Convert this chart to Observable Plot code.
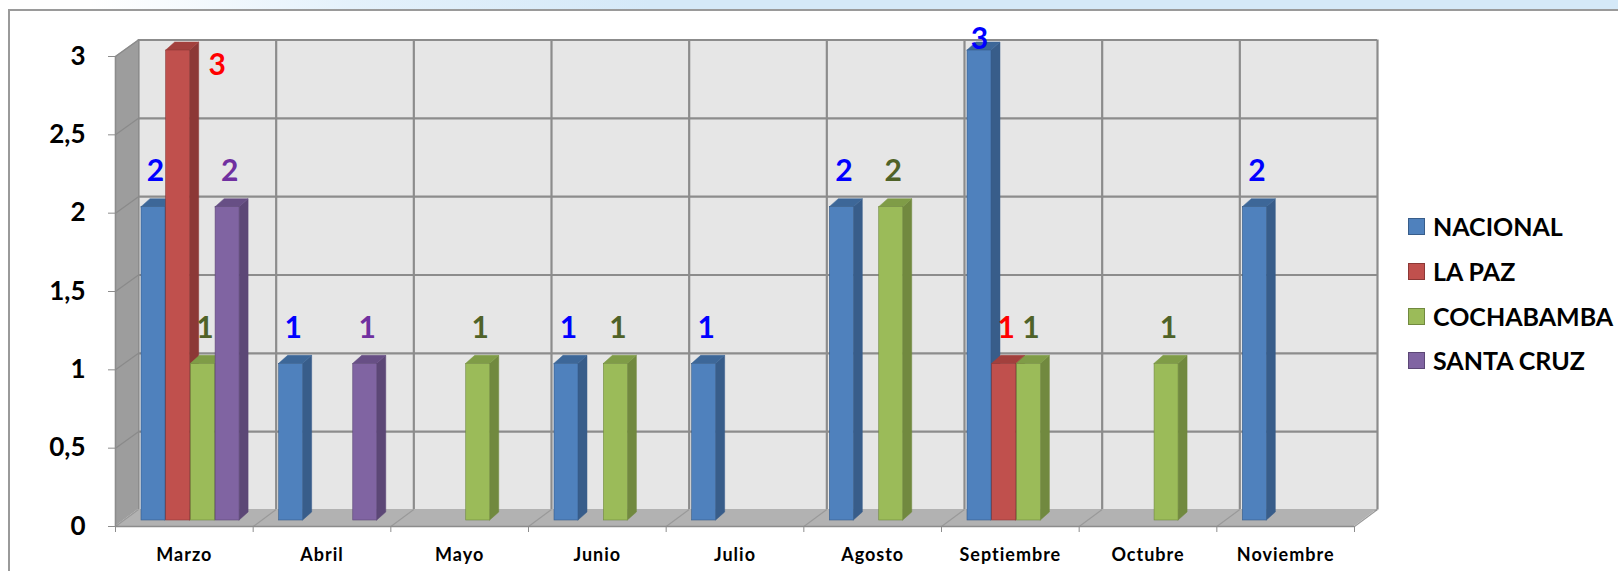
<!DOCTYPE html>
<html>
<head>
<meta charset="utf-8">
<script src="https://cdn.jsdelivr.net/npm/d3@7"></script>
<script src="https://cdn.jsdelivr.net/npm/@observablehq/plot@0.6"></script>
<style>
  html, body { margin: 0; padding: 0; background: #fff; overflow: hidden; }
  #wrap { position: relative; width: 1618px; height: 571px; overflow: hidden; font-family: Lato, "Open Sans", sans-serif; }
  #band { position: absolute; left: 0; top: 0; width: 1618px; height: 10px;
          background: linear-gradient(to right, #ffffff 0px, #ffffff 90px, #e4f1fb 350px, #d5e9f8 650px, #d5e9f8 1618px); }
  #frame { position: absolute; left: 8px; top: 9px; width: 1640px; height: 600px; background: #fff;
           border-left: 2px solid #9a9a9a; border-top: 2px solid #9a9a9a; }
  #chart { position: absolute; left: 0; top: 0; }
  #legend { position: absolute; left: 0; top: 0; }
  .item { position: absolute; left: 1408px; height: 24px; display: flex; align-items: center; white-space: nowrap; }
  .sw { width: 15px; height: 15px; border: 1px solid; margin-right: 8px; }
  .lbl { font-family: Lato, sans-serif; font-weight: bold; font-size: 25px; color: #000; }
  g[aria-label="x-axis tick label"] text { letter-spacing: 1px; }
</style>
</head>
<body>
<div id="wrap">
  <div id="band"></div>
  <div id="frame"></div>
  <div id="chart"></div>
  <div id="legend"></div>
</div>
<script>
// ---- data ----
const months = ["Marzo", "Abril", "Mayo", "Junio", "Julio", "Agosto", "Septiembre", "Octubre", "Noviembre"];
const series = ["NACIONAL", "LA PAZ", "COCHABAMBA", "SANTA CRUZ"];
const nacional   = [2, 1, 0, 1, 1, 2, 3, 0, 2];
const laPaz      = [3, 0, 0, 0, 0, 0, 1, 0, 0];
const cochabamba = [1, 0, 1, 1, 0, 2, 1, 1, 0];
const santaCruz  = [2, 1, 0, 0, 0, 0, 0, 0, 0];
const yTicks = [0, 0.5, 1, 1.5, 2, 2.5, 3];

const values = [nacional, laPaz, cochabamba, santaCruz];
const faceColors  = ["#4f81bd", "#c0504d", "#9bbb59", "#8064a2"];
const sideColors  = ["#385d8a", "#8c3836", "#71893f", "#5c4776"];
const topColors   = ["#3d6798", "#a2403d", "#7f9c47", "#674f85"];
const labelColors = ["#0000ff", "#ff0000", "#4f6228", "#7030a0"];

// ---- geometry (pixels) ----
const W = 1618, H = 571;
const X0 = 138, X1 = 1377, Y0 = 520, Y1 = 50;
const yMax = 3;
const kx = months.length / (X1 - X0);   // x units per pixel
const ky = yMax / (Y0 - Y1);            // y units per pixel
const FRONT_DX = -23, FRONT_DY = 6, BACK_DY = -10.5, FLOOR_BACK = 11;
const BAR_OFF = 3, BAR_STEP = 24.7, BAR_W = 24, DEP_X = 9, DEP_Y = 8;

const rows = series.flatMap((s, j) => values[j].map((v, i) => ({month: months[i], mi: i, series: s, si: j, value: v})))
  .filter(d => d.value > 0);

const bx1 = d => d.mi + (BAR_OFF + BAR_STEP * d.si) * kx;
const bx2 = d => bx1(d) + BAR_W * kx;

const bounds = d3.range(months.length + 1);
const grid = "#8c8c8c";

const marks = [];
// back wall
marks.push(Plot.rect([0], {x1: 0, x2: months.length, y1: 0, y2: yMax, fill: "#e6e6e6", dy: BACK_DY}));
marks.push(Plot.ruleY(yTicks, {x1: 0, x2: months.length, stroke: grid, strokeWidth: 2.2, dy: BACK_DY}));
marks.push(Plot.ruleX(bounds, {y1: 0, y2: yMax, stroke: grid, strokeWidth: 2.2, dy: BACK_DY}));
// side wall
marks.push(Plot.areaY([
  {x: FRONT_DX * kx, y1: -FRONT_DY * ky, y2: yMax - FRONT_DY * ky},
  {x: 0, y1: FLOOR_BACK * ky, y2: yMax - BACK_DY * ky}
], {x: "x", y1: "y1", y2: "y2", fill: "#9d9d9d"}));
marks.push(Plot.link(yTicks, {x1: FRONT_DX * kx, y1: d => d - FRONT_DY * ky, x2: 0, y2: d => d - BACK_DY * ky, stroke: "#8a8a8a", strokeWidth: 1.2}));
// floor
marks.push(Plot.areaX([
  {y: -FRONT_DY * ky, x1: FRONT_DX * kx, x2: months.length + FRONT_DX * kx},
  {y: FLOOR_BACK * ky, x1: 0, x2: months.length}
], {y: "y", x1: "x1", x2: "x2", fill: "#b2b2b2"}));
marks.push(Plot.link(bounds, {x1: d => d + FRONT_DX * kx, y1: -FRONT_DY * ky, x2: d => d, y2: FLOOR_BACK * ky, stroke: "#999", strokeWidth: 1.2}));
// front axis lines
marks.push(Plot.ruleY([0], {x1: 0, x2: months.length, dx: FRONT_DX, dy: FRONT_DY, stroke: grid, strokeWidth: 1.6}));
marks.push(Plot.ruleX([0], {y1: 0, y2: yMax, dx: FRONT_DX, dy: FRONT_DY, stroke: grid, strokeWidth: 1.6}));

// bars
series.forEach((s, j) => {
  const data = rows.filter(d => d.si === j);
  const side = data.flatMap((d, k) => [
    {id: k, x: bx2(d), y1: 0, y2: d.value},
    {id: k, x: bx2(d) + DEP_X * kx, y1: DEP_Y * ky, y2: d.value + DEP_Y * ky}
  ]);
  const top = data.flatMap((d, k) => [
    {id: k, y: d.value, x1: bx1(d), x2: bx2(d)},
    {id: k, y: d.value + DEP_Y * ky, x1: bx1(d) + DEP_X * kx, x2: bx2(d) + DEP_X * kx}
  ]);
  marks.push(Plot.areaY(side, {x: "x", y1: "y1", y2: "y2", z: "id", fill: sideColors[j], stroke: sideColors[j], strokeWidth: 0.5}));
  marks.push(Plot.areaX(top, {y: "y", x1: "x1", x2: "x2", z: "id", fill: topColors[j], stroke: topColors[j], strokeWidth: 0.5}));
  marks.push(Plot.rect(data, {x1: bx1, x2: bx2, y1: 0, y2: "value", fill: faceColors[j], stroke: sideColors[j], strokeWidth: 0.6}));
});

// value labels
const lblOpts = {x: d => bx1(d) + BAR_W / 2 * kx, y: "value", text: d => String(d.value),
  fill: d => labelColors[d.si], lineAnchor: "bottom", textAnchor: "middle", fontSize: 30, fontWeight: "bold"};
marks.push(Plot.text(rows.filter(d => d.value < yMax), {...lblOpts, dx: 2, dy: -26}));
marks.push(Plot.text(rows.filter(d => d.value === yMax && d.si === 0), {...lblOpts, dx: 0, dy: -2}));
marks.push(Plot.text(rows.filter(d => d.value === yMax && d.si !== 0), {...lblOpts, dx: 39, dy: 24}));

// axes
marks.push(Plot.axisY(yTicks, {anchor: "left", tickSize: 7, tickPadding: 23, dx: FRONT_DX, dy: FRONT_DY,
  tickFormat: d => String(d).replace(".", ","), fontSize: 26, fontWeight: "bold", fill: "#000", stroke: grid, label: null}));
marks.push(Plot.axisX(months.map((m, i) => i + 0.5), {anchor: "bottom", tickSize: 0, tickPadding: 22, dx: FRONT_DX, dy: FRONT_DY,
  tickFormat: v => months[Math.floor(v)], fontSize: 18, fontWeight: "bold", fill: "#000", label: null}));
marks.push(Plot.axisX(bounds, {anchor: "bottom", tickSize: 6, dx: FRONT_DX, dy: FRONT_DY, tickFormat: () => "", stroke: grid, label: null}));

const chart = Plot.plot({
  width: W, height: H,
  marginLeft: X0, marginRight: W - X1, marginTop: Y1, marginBottom: H - Y0,
  x: {type: "linear", domain: [0, months.length], axis: null},
  y: {domain: [0, yMax], axis: null},
  color: {type: "identity"},
  style: {background: "transparent", fontFamily: "Lato, 'Open Sans', sans-serif", overflow: "visible"},
  marks
});
document.getElementById("chart").appendChild(chart);

// legend
const legendY = [226, 271, 316, 360];
const legend = document.getElementById("legend");
series.forEach((s, j) => {
  const it = document.createElement("div");
  it.className = "item";
  it.style.top = (legendY[j] - 12) + "px";
  const sw = document.createElement("div");
  sw.className = "sw";
  sw.style.background = faceColors[j];
  sw.style.borderColor = sideColors[j];
  const t = document.createElement("span");
  t.className = "lbl";
  t.textContent = s;
  it.appendChild(sw); it.appendChild(t);
  legend.appendChild(it);
});
</script>
</body>
</html>
